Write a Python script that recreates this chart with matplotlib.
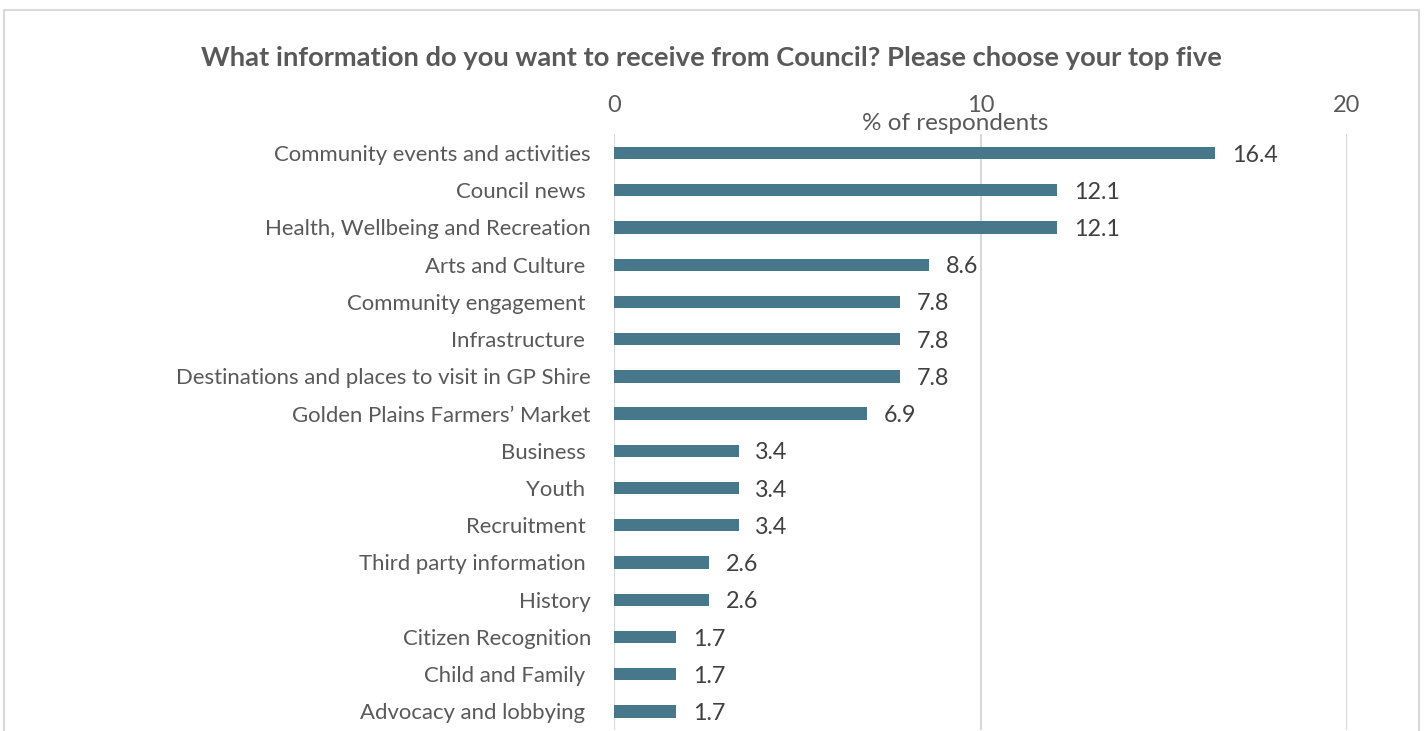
import matplotlib
matplotlib.use("Agg")
import matplotlib.pyplot as plt
from matplotlib.patches import Rectangle
from matplotlib.transforms import blended_transform_factory

# Survey results: share of respondents choosing each information topic
categories = [
    "Community events and activities",
    "Council news ",
    "Health, Wellbeing and Recreation",
    "Arts and Culture ",
    "Community engagement ",
    "Infrastructure ",
    "Destinations and places to visit in GP Shire",
    "Golden Plains Farmers\u2019 Market",
    "Business ",
    "Youth ",
    "Recruitment ",
    "Third party information ",
    "History",
    "Citizen Recognition",
    "Child and Family ",
    "Advocacy and lobbying ",
]
values = [16.4, 12.1, 12.1, 8.6, 7.8, 7.8, 7.8, 6.9, 3.4, 3.4, 3.4, 2.6, 2.6, 1.7, 1.7, 1.7]
x_ticks = [0, 10, 20]

title = "What information do you want to receive from Council? Please choose your top five"
x_label = "% of respondents"

plt.rcParams["font.family"] = ["Lato", "DejaVu Sans"]

W, H = 1426, 731
fig = plt.figure(figsize=(W / 100, H / 100), dpi=100)

bar_color = "#46778A"
grid_color = "#D9D9D9"
label_color = "#595959"
value_color = "#404040"

# Axes area in pixel terms
left_px, right_px = 614, 1347
top_px, bottom_px = 134.4, 730
ax = fig.add_axes([left_px / W, 1 - bottom_px / H,
                   (right_px - left_px) / W, (bottom_px - top_px) / H])

y = list(range(len(categories)))
ax.barh(y, values, height=0.33, color=bar_color, zorder=3)

ax.set_xlim(0, 20)
ax.set_ylim(len(categories) - 0.5, -0.5)

ax.set_yticks(y)
ax.set_yticklabels(categories, fontsize=15.9, color=label_color)
ax.tick_params(axis="y", length=0, pad=16.6)

ax.xaxis.tick_top()
ax.set_xticks(x_ticks)
ax.set_xticklabels([str(t) for t in x_ticks], fontsize=17, color=label_color)
ax.tick_params(axis="x", length=0, pad=13.5)

ax.grid(axis="x", color=grid_color, linewidth=1.5, zorder=0)
for s in ax.spines.values():
    s.set_visible(False)

for yi, v in zip(y, values):
    ax.annotate(f"{v:.1f}", xy=(v, yi), xytext=(12, -1.5), textcoords="offset points",
                va="center", ha="left", fontsize=16.8, color=value_color)

# Axis title sits just above the plot area, beneath the tick labels
trans = blended_transform_factory(ax.transData, fig.transFigure)
fig.text((955 - left_px) / (right_px - left_px) * 20, 1 - 124 / H, x_label,
         transform=trans, ha="center", va="center", fontsize=17.5, color=label_color)

fig.text(0.5 * (200 + 1222) / W, 1 - 58 / H, title, ha="center", va="center",
         fontsize=19.7, fontweight="bold", color=label_color)

# Chart frame
fig.patches.append(Rectangle((4 / W, -0.05), (1419 - 4) / W, 1.05 - 10 / H,
                             transform=fig.transFigure, fill=False,
                             edgecolor=grid_color, linewidth=1.5))

fig.savefig("out.png", dpi=100)
